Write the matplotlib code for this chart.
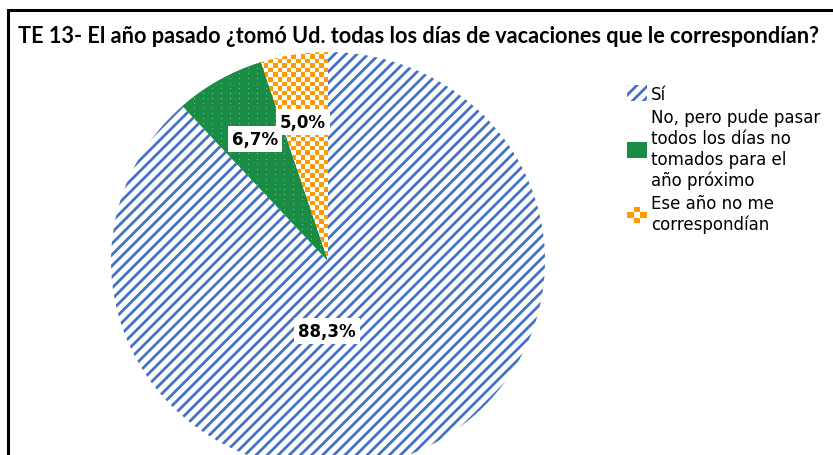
import numpy as np
import matplotlib
matplotlib.use("Agg")
import matplotlib.pyplot as plt
from matplotlib.colors import ListedColormap
from matplotlib.legend_handler import HandlerBase
from matplotlib.patches import Rectangle

TITLE = "TE 13- El año pasado ¿tomó Ud. todas los días de vacaciones que le correspondían?"
labels = [
    "Sí",
    "No, pero pude pasar\ntodos los días no\ntomados para el\naño próximo",
    "Ese año no me\ncorrespondían",
]
values = [88.3, 6.7, 5.0]

BLUE = "#4472C4"
GREEN = "#1B8C46"
GREEN_DOT = "#7CC49A"
ORANGE = "#FF9A00"

# where the data labels sit (axes data units, pie radius = 1)
label_pos = [(-0.005, -0.335), (-0.336, 0.584), (-0.115, 0.665)]

W, H = 833, 456
CX, CY = 328, 262      # pie centre, pixels from top-left
SX, SY = 217, 209      # pixels per unit (pie is slightly squashed)

plt.rcParams["hatch.linewidth"] = 2.0


class CheckerHandler(HandlerBase):
    def create_artists(self, legend, orig_handle, xdescent, ydescent,
                       width, height, fontsize, trans):
        n = 3
        cw, ch = width / n, height / n
        arts = []
        for i in range(n):
            for j in range(n):
                if (i + j) % 2:
                    arts.append(Rectangle((-xdescent + i * cw, -ydescent + j * ch),
                                          cw, ch, fc=ORANGE, ec="none",
                                          transform=trans))
        return arts


def texture(ax, wedge, extent, cell, pattern, colors):
    # pixel-grid fill image, clipped to one wedge
    nx = int(round((extent[1] - extent[0]) * SX / cell))
    ny = int(round((extent[3] - extent[2]) * SY / cell))
    rows, cols = np.indices((ny, nx))
    im = ax.imshow(pattern(rows, cols), cmap=ListedColormap(colors),
                   extent=extent, interpolation="nearest", aspect="auto",
                   vmin=0, vmax=1, zorder=2)
    im.set_clip_path(wedge)


def main() -> None:
    fig = plt.figure(figsize=(W / 100, H / 100), dpi=100)

    x0, x1 = -1.3, 1.3
    y0, y1 = -(H - CY) / SY, (CY - 11) / SY
    left = (CX + x0 * SX) / W
    ax = fig.add_axes([left, 0, (x1 - x0) * SX / W, (H - 11) / H])

    wedges, _ = ax.pie(values, startangle=90, counterclock=False,
                       wedgeprops=dict(linewidth=0))
    wedges[0].set(facecolor="white", edgecolor=BLUE, hatch="///")
    wedges[1].set(facecolor=GREEN, edgecolor="none")
    wedges[2].set(facecolor="white", edgecolor="none")

    texture(ax, wedges[1], (-0.72, 0.02, -0.02, 1.0), 1,
            lambda r, c: ((r % 5 == 2) & (c % 9 == 4)).astype(int),
            [GREEN, GREEN_DOT])
    texture(ax, wedges[2], (-0.36, 0.02, -0.02, 1.03), 4.6,
            lambda r, c: (r + c) % 2, ["white", ORANGE])

    ax.set_aspect("auto")
    ax.set_xlim(x0, x1)
    ax.set_ylim(y0, y1)
    ax.axis("off")

    for v, (lx, ly) in zip(values, label_pos):
        ax.text(lx, ly, f"{v:.1f}%".replace(".", ","), ha="center", va="center",
                fontsize=12, fontweight="bold", zorder=5,
                bbox=dict(boxstyle="square,pad=0.25", fc="white", ec="none"))

    fig.text(18 / W, 1 - 43 / H, TITLE, fontsize=15.6, fontweight="bold",
             family="Lato", ha="left", va="baseline")

    leg = fig.legend(wedges, labels, loc="upper left",
                     bbox_to_anchor=(627 / W, 1 - 86 / H), frameon=False,
                     fontsize=12, handlelength=1.2, handleheight=1.1,
                     handletextpad=0.25, labelspacing=0.3, borderpad=0,
                     borderaxespad=0, handler_map={wedges[2]: CheckerHandler()})
    for t in leg.get_texts():
        t.set_linespacing(1.2)

    fig.patches.append(Rectangle((8 / W, -0.2), 1.2, 1.2 - 11 / H,
                                 transform=fig.transFigure, fill=False,
                                 ec="black", lw=2.2))

    fig.savefig("out.png", dpi=100)


if __name__ == "__main__":
    main()
